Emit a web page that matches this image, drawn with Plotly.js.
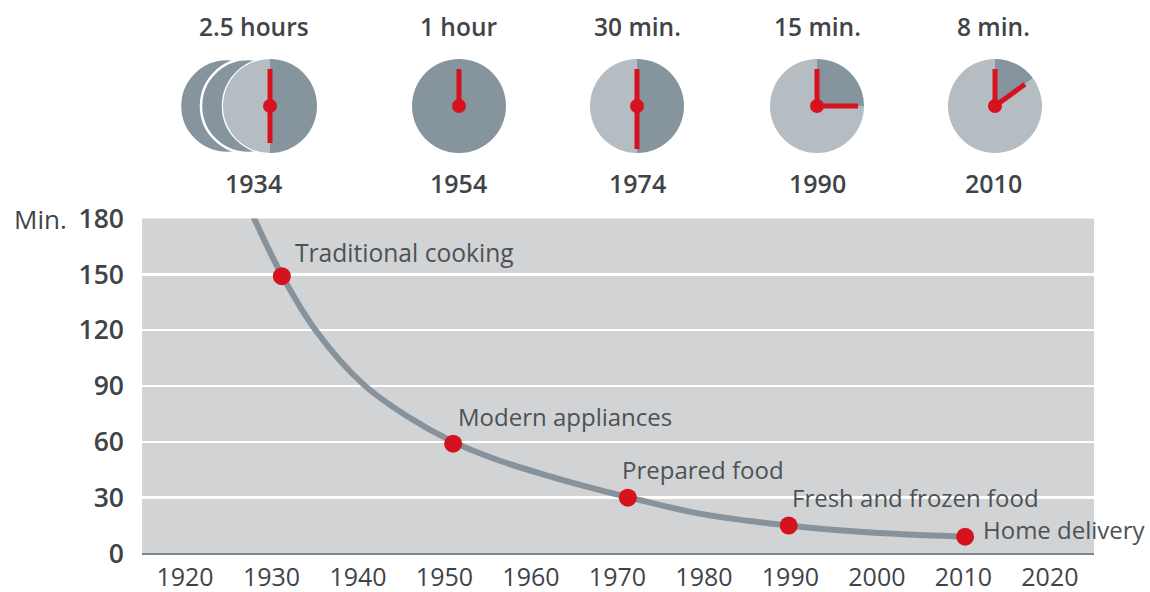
<!DOCTYPE html>
<html><head><meta charset="utf-8">
<script src="https://cdn.plot.ly/plotly-3.0.1.min.js"></script>
<style>html,body{margin:0;padding:0;background:#fff}</style></head>
<body><div id="chart" style="width:1150px;height:592px"></div>
<script>
// Curve
const curveYears = [1927.9,1931.2,1935.1,1940.6,1945.6,1951,1956,1961.8,1966,1971.2,1979.5,1989.8,1998.8,2010.2];
const curveMin   = [181,149.6,120,91,74,60,50.5,42,36.5,30.3,21.4,15,11.4,9];
// Milestones
const mileYears = [1931.2,1951,1971.2,1989.8,2010.2];
const mileMin   = [149,59,30,15,9];
const mileText  = ['Traditional cooking','Modern appliances','Prepared food','Fresh and frozen food','Home delivery'];
const mileLabelYears = [1932.45,1951.3,1970.25,1990,2012];
const mileLabelMin   = [161.5,73.5,45,30,13];
// Axes
const yTicks = [0,30,60,90,120,150,180];
const xTicks = [1920,1930,1940,1950,1960,1970,1980,1990,2000,2010,2020];
// Clocks
const clockTop    = ['2.5 hours','1 hour','30 min.','15 min.','8 min.'];
const clockYear   = ['1934','1954','1974','1990','2010'];
const clockX      = [270,459,637,817,995];
const clockLabelX = [253.5,458,637,817,993];
const clockDark   = [30,60,30,15,9];
const handAngle   = [180,null,180,90,54];
const handLength  = [37,null,43,41,37];
const backClockX  = [227,248];

const W=1150,H=592, CY=106, R=47;
const DARK='#86949e', LIGHT='#b6bdc2', RED='#d6121f', TXT='#3f4448';
const font='"Open Sans", sans-serif';
const px=x=>x/W, py=y=>1-y/H;

function pie(cx,r,values,colors,line){
  return {type:'pie',values,sort:false,direction:'clockwise',rotation:0,textinfo:'none',hoverinfo:'skip',showlegend:false,
    domain:{x:[px(cx-r),px(cx+r)],y:[py(CY+r),py(CY-r)]},
    marker:{colors,line:line||{width:0}}};
}
const traces=[
  {type:'scatter',mode:'lines',x:curveYears,y:curveMin,line:{color:'#87939c',width:6,shape:'spline',smoothing:1},hoverinfo:'skip',cliponaxis:false,showlegend:false},
  {type:'scatter',mode:'markers',x:mileYears,y:mileMin,marker:{color:RED,size:18},hoverinfo:'skip',cliponaxis:false,showlegend:false}
];
backClockX.forEach(cx=>traces.push(pie(cx,R,[60],[DARK],{color:'#fff',width:2.5})));
clockX.forEach((cx,i)=>{
  if(i===0) traces.push(pie(cx,R,[60],[DARK],{color:'#fff',width:2.5}));
  traces.push(pie(cx,R,[clockDark[i],60-clockDark[i]],[DARK,LIGHT]));
});

const shapes=[];
function hand(cx,deg,len){
  const a=deg*Math.PI/180;
  shapes.push({type:'line',xref:'paper',yref:'paper',layer:'above',x0:px(cx),y0:py(CY),x1:px(cx+len*Math.sin(a)),y1:py(CY-len*Math.cos(a)),line:{color:RED,width:5}});
}
clockX.forEach((cx,i)=>{
  hand(cx,0,37);
  if(handAngle[i]!==null) hand(cx,handAngle[i],handLength[i]);
  shapes.push({type:'circle',xref:'paper',yref:'paper',layer:'above',x0:px(cx-7),x1:px(cx+7),y0:py(CY+7),y1:py(CY-7),fillcolor:RED,line:{width:0}});
});
const annotations=[];
clockX.forEach((cx,i)=>{
  annotations.push({xref:'paper',yref:'paper',x:px(clockLabelX[i]),y:py(26),text:clockTop[i],showarrow:false,font:{family:font,size:24.5,color:TXT,weight:600},xanchor:'center',yanchor:'middle'});
  annotations.push({xref:'paper',yref:'paper',x:px(clockLabelX[i]),y:py(183),text:clockYear[i],showarrow:false,font:{family:font,size:25,color:TXT,weight:600},xanchor:'center',yanchor:'middle'});
});
mileText.forEach((t,i)=>annotations.push({xref:'x',yref:'y',x:mileLabelYears[i],y:mileLabelMin[i],text:t,showarrow:false,xanchor:'left',yanchor:'middle',font:{family:font,size:i===0?24.6:24,color:'#4d5256'}}));
annotations.push({xref:'paper',yref:'paper',x:px(12),y:py(218.5),text:'Min.',showarrow:false,xanchor:'left',yanchor:'middle',font:{family:font,size:26,color:TXT}});

const layout={
  width:W,height:H,margin:{l:0,r:0,t:0,b:0},paper_bgcolor:'#fff',plot_bgcolor:'#d1d3d5',showlegend:false,
  xaxis:{domain:[142/W,1094/W],range:[1915.03,2025.1],tickvals:xTicks,ticktext:xTicks.map(String),showgrid:false,zeroline:false,showline:false,ticks:'',
    tickfont:{family:font,size:25,color:TXT},ticklabelstandoff:6},
  yaxis:{domain:[1-553.5/H,1-218.5/H],range:[0,180],tickvals:yTicks,ticktext:yTicks.map(String),showgrid:true,gridcolor:'#fff',gridwidth:2.5,
    zeroline:true,zerolinecolor:'#7c878d',zerolinewidth:2,showline:false,ticks:'',tickfont:{family:font,size:26.5,color:TXT,weight:600},ticklabelstandoff:17},
  shapes,annotations
};
Plotly.newPlot('chart',traces,layout,{displayModeBar:false,staticPlot:true});
</script></body></html>
